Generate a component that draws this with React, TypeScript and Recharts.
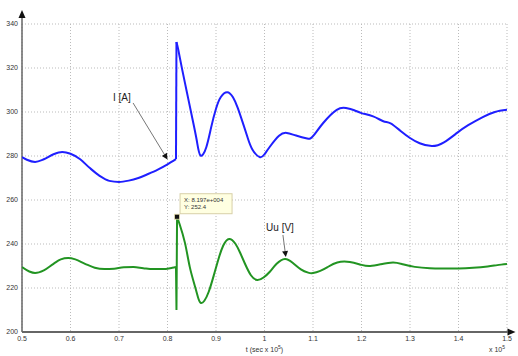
import React from 'react';
import { LineChart, Line, XAxis, YAxis, CartesianGrid, ReferenceLine, ReferenceDot } from 'recharts';

const xTicks = [0.5, 0.6, 0.7, 0.8, 0.9, 1, 1.1, 1.2, 1.3, 1.4, 1.5];
const yTicks = [200, 220, 240, 260, 280, 300, 320, 340];

const currentT = [0.5, 0.51, 0.527, 0.545, 0.565, 0.583, 0.6, 0.62, 0.64, 0.66, 0.68, 0.7, 0.72, 0.74, 0.76, 0.78, 0.8, 0.8175, 0.8185, 0.822, 0.83, 0.84, 0.85, 0.86, 0.868, 0.88, 0.89, 0.9, 0.91, 0.923, 0.935, 0.945, 0.955, 0.965, 0.975, 0.99, 1.0, 1.011, 1.03, 1.046, 1.065, 1.088, 1.1, 1.121, 1.149, 1.168, 1.185, 1.2, 1.224, 1.245, 1.26, 1.28, 1.3, 1.32, 1.345, 1.37, 1.397, 1.42, 1.45, 1.475, 1.5];
const currentA = [279.5, 278.3, 277.3, 278.5, 280.8, 281.8, 281.0, 278.5, 274.5, 271.0, 268.7, 268.2, 268.8, 270.0, 271.8, 273.8, 276.2, 278.6, 331.8, 328.5, 319.6, 309.0, 298.4, 287.5, 280.2, 284.0, 293.0, 301.5, 306.8, 309.0, 306.7, 301.8, 295.3, 288.5, 283.0, 279.5, 280.8, 284.2, 289.2, 290.5, 289.3, 288.0, 289.0, 295.0, 301.0, 301.8, 300.8, 299.5, 298.0, 295.8, 294.8, 291.5, 288.2, 285.8, 284.5, 286.2, 290.5, 294.0, 297.7, 300.0, 301.0];

const voltageT = [0.5, 0.515, 0.527, 0.545, 0.565, 0.58, 0.595, 0.61, 0.63, 0.65, 0.67, 0.69, 0.71, 0.73, 0.75, 0.77, 0.79, 0.81, 0.8175, 0.8185, 0.8197, 0.825, 0.836, 0.846, 0.857, 0.864, 0.869, 0.876, 0.885, 0.895, 0.905, 0.915, 0.927, 0.94, 0.95, 0.96, 0.972, 0.985, 0.998, 1.011, 1.025, 1.042, 1.058, 1.075, 1.09, 1.1, 1.115, 1.13, 1.15, 1.176, 1.2, 1.218, 1.24, 1.265, 1.285, 1.31, 1.341, 1.37, 1.4, 1.43, 1.46, 1.48, 1.5];
const voltageV = [229.5, 227.5, 226.8, 228.0, 231.0, 233.0, 233.6, 233.0, 231.0, 229.2, 228.6, 228.8, 229.4, 229.5, 229.0, 228.6, 228.6, 229.2, 229.5, 210.0, 252.4, 249.0, 240.5, 229.5, 220.5, 215.0, 213.2, 214.2, 218.3, 225.4, 233.1, 239.3, 242.3, 240.1, 235.9, 230.9, 225.8, 223.6, 224.8, 227.4, 231.0, 233.2, 231.5, 228.5, 227.0, 226.8, 227.8, 229.5, 231.6, 231.8, 230.5, 230.0, 230.8, 231.6, 230.8, 229.6, 229.0, 228.9, 228.9, 229.2, 229.8, 230.4, 230.9];

const currentData = currentT.map((x, i) => ({ x, y: currentA[i] }));
const voltageData = voltageT.map((x, i) => ({ x, y: voltageV[i] }));

// split each trace at the switching instant (index of last pre-event sample)
const switchIdx = 17;
const currentPre = currentData.slice(0, switchIdx + 1);
const currentJump = currentData.slice(switchIdx, switchIdx + 2);
const currentPost = currentData.slice(switchIdx + 1);
const voltagePre = voltageData.slice(0, switchIdx + 2);
const voltageJump = voltageData.slice(switchIdx + 1, switchIdx + 4);
const voltagePost = voltageData.slice(switchIdx + 3);

const tipX = 0.8197;
const tipY = 252.4;

const BLUE = '#1f1fff';
const GREEN = '#229422';
const FONT = 'Liberation Sans, Arial, sans-serif';

const arrowShape = (color: string, head: number, width: number, lineW: number) => (p: any) => {
  const { x1, y1, x2, y2 } = p;
  const ang = Math.atan2(y2 - y1, x2 - x1);
  const bx = x2 - head * Math.cos(ang);
  const by = y2 - head * Math.sin(ang);
  const nx = -Math.sin(ang) * width;
  const ny = Math.cos(ang) * width;
  return (
    <g>
      <line x1={x1} y1={y1} x2={bx} y2={by} stroke={color} strokeWidth={lineW} />
      <polygon points={`${x2},${y2} ${bx + nx},${by + ny} ${bx - nx},${by - ny}`} fill="#111" />
    </g>
  );
};

const axisLabel = (props: any) => {
  const vb = props.viewBox || {};
  const cx = vb.x + vb.width / 2;
  const right = vb.x + vb.width;
  return (
    <g fontFamily={FONT} fill="#333">
      <text x={cx} y={352} textAnchor="middle" fontSize={7}>
        <tspan>t (sec x 10</tspan>
        <tspan dy={-3} fontSize={5}>5</tspan>
        <tspan dy={3}>)</tspan>
      </text>
      <text x={right - 2} y={352} textAnchor="end" fontSize={7}>
        <tspan>x 10</tspan>
        <tspan dy={-3} fontSize={5}>5</tspan>
      </text>
    </g>
  );
};

export default function App() {
  return (
    <div style={{ position: 'absolute', left: 0, top: 0, background: '#fff' }}>
      <LineChart width={518} height={356} margin={{ top: 24, right: 11, bottom: 0, left: 0 }}>
        <CartesianGrid stroke="#bbb" strokeDasharray="1 2" />
        <XAxis
          type="number"
          dataKey="x"
          domain={[0.5, 1.5]}
          ticks={xTicks}
          allowDataOverflow
          height={24}
          axisLine={false}
          tickLine={false}
          tickSize={3}
          tickMargin={1}
          tick={{ fontSize: 7, fill: '#333', fontFamily: FONT }}
          label={axisLabel}
        />
        <YAxis
          type="number"
          domain={[200, 340]}
          ticks={yTicks}
          allowDataOverflow
          width={22}
          axisLine={false}
          tickLine={false}
          tickSize={2}
          tickMargin={2}
          tick={{ fontSize: 7, fill: '#333', fontFamily: FONT }}
        />
        <ReferenceLine
          segment={[{ x: 0.5, y: 200 }, { x: 1.5175, y: 200 }]}
          ifOverflow="visible"
          shape={arrowShape('#666', 8, 3.5, 2)}
        />
        <ReferenceLine
          segment={[{ x: 0.5, y: 200 }, { x: 0.5, y: 346.4 }]}
          ifOverflow="visible"
          shape={arrowShape('#666', 8, 3.5, 1.5)}
        />
        <Line data={currentPre} dataKey="y" type="monotone" stroke={BLUE} strokeWidth={2} dot={false} isAnimationActive={false} />
        <Line data={currentJump} dataKey="y" type="linear" stroke={BLUE} strokeWidth={2} dot={false} isAnimationActive={false} />
        <Line data={currentPost} dataKey="y" type="natural" stroke={BLUE} strokeWidth={2} dot={false} isAnimationActive={false} />
        <Line data={voltagePre} dataKey="y" type="monotone" stroke={GREEN} strokeWidth={2} dot={false} isAnimationActive={false} />
        <Line data={voltageJump} dataKey="y" type="linear" stroke={GREEN} strokeWidth={2} dot={false} isAnimationActive={false} />
        <Line data={voltagePost} dataKey="y" type="natural" stroke={GREEN} strokeWidth={2} dot={false} isAnimationActive={false} />
        <ReferenceLine
          segment={[{ x: 0.729, y: 304.1 }, { x: 0.8, y: 278.4 }]}
          ifOverflow="visible"
          shape={arrowShape('#777', 6, 3, 1)}
        />
        <ReferenceLine
          segment={[{ x: 1.038, y: 244.1 }, { x: 1.044, y: 234.1 }]}
          ifOverflow="visible"
          shape={arrowShape('#777', 6, 3, 1)}
        />
        <ReferenceDot
          x={0.706}
          y={306.8}
          ifOverflow="visible"
          shape={(p: any) => (
            <text x={p.cx} y={p.cy + 3.5} textAnchor="middle" fontSize={10} fill="#222" fontFamily={FONT}>I [A]</text>
          )}
        />
        <ReferenceDot
          x={1.032}
          y={247.7}
          ifOverflow="visible"
          shape={(p: any) => (
            <text x={p.cx} y={p.cy + 3.5} textAnchor="middle" fontSize={10} fill="#222" fontFamily={FONT}>Uu [V]</text>
          )}
        />
        <ReferenceDot
          x={tipX}
          y={tipY}
          ifOverflow="visible"
          shape={(p: any) => (
            <g fontFamily={FONT}>
              <rect x={p.cx + 3} y={p.cy - 23} width={52} height={20} fill="#ffffe1" stroke="#d8d0a8" strokeWidth={1} />
              <text x={p.cx + 7} y={p.cy - 15} fontSize={6} fill="#333">X: 8.197e+004</text>
              <text x={p.cx + 7} y={p.cy - 7.5} fontSize={6} fill="#333">Y: 252.4</text>
              <rect x={p.cx - 2.5} y={p.cy - 2.5} width={5} height={5} fill="#111" stroke="#e8e0b0" strokeWidth={0.8} />
            </g>
          )}
        />
      </LineChart>
    </div>
  );
}
